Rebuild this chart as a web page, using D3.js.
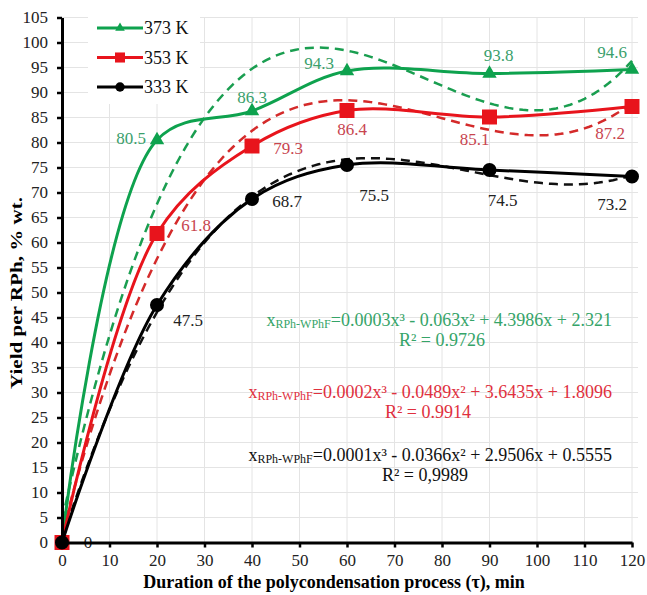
<html>
<head>
<meta charset="utf-8">
<script src="https://d3js.org/d3.v7.min.js"></script>
<style>
body { margin: 0; background: #fff; }
text { font-family: "Liberation Serif", "Times New Roman", serif; }
</style>
</head>
<body>
<script>
// data
var times = [0, 20, 40, 60, 90, 120];
var y373 = [0, 80.5, 86.3, 94.3, 93.8, 94.6];
var y353 = [0, 61.8, 79.3, 86.4, 85.1, 87.2];
var y333 = [0, 47.5, 68.7, 75.5, 74.5, 73.2];
var seriesNames = ["373 K", "353 K", "333 K"];
var xTicks = d3.range(0, 121, 10);
var yTicks = d3.range(0, 106, 5);
var eqTexts = [
  "=0.0003x³ - 0.063x² + 4.3986x + 2.321",
  "=0.0002x³ - 0.0489x² + 3.6435x + 1.8096",
  "=0.0001x³ - 0.0366x² + 2.9506x + 0.5555"
];
var r2Texts = ["R² = 0.9726", "R² = 0.9914", "R² = 0,9989"];

var W = 647, H = 595;
var x = d3.scaleLinear().domain([0, 120]).range([62, 632]);
var y = d3.scaleLinear().domain([0, 105]).range([542.5, 17.5]);

var svg = d3.select("body").append("svg")
    .attr("width", W)
    .attr("height", H);

// grid
svg.append("g").selectAll("line.gy")
    .data(yTicks.slice(1))
  .enter().append("line")
    .attr("x1", x(0)).attr("x2", x(120) + 6)
    .attr("y1", function(d) { return y(d); })
    .attr("y2", function(d) { return y(d); })
    .attr("stroke", "#e4e4e4").attr("stroke-width", 1);
svg.append("g").selectAll("line.gx")
    .data(xTicks.slice(1))
  .enter().append("line")
    .attr("x1", function(d) { return x(d); })
    .attr("x2", function(d) { return x(d); })
    .attr("y1", y(105)).attr("y2", y(0))
    .attr("stroke", "#e4e4e4").attr("stroke-width", 1);

// cubic least squares, like the spreadsheet trendline
function polyfit(xs, ys, deg) {
  var n = deg + 1, A = [], b = [];
  for (var i = 0; i < n; i++) {
    A.push([]);
    for (var j = 0; j < n; j++) A[i].push(d3.sum(xs, function(v) { return Math.pow(v, i + j); }));
    b.push(d3.sum(xs, function(v, k) { return ys[k] * Math.pow(v, i); }));
  }
  for (var c = 0; c < n; c++) {
    var p = c;
    for (var r = c + 1; r < n; r++) if (Math.abs(A[r][c]) > Math.abs(A[p][c])) p = r;
    var t = A[c]; A[c] = A[p]; A[p] = t; var tb = b[c]; b[c] = b[p]; b[p] = tb;
    for (var r2 = c + 1; r2 < n; r2++) {
      var f = A[r2][c] / A[c][c];
      for (var k = c; k < n; k++) A[r2][k] -= f * A[c][k];
      b[r2] -= f * b[c];
    }
  }
  var coef = new Array(n);
  for (var i2 = n - 1; i2 >= 0; i2--) {
    var s = b[i2];
    for (var k2 = i2 + 1; k2 < n; k2++) s -= A[i2][k2] * coef[k2];
    coef[i2] = s / A[i2][i2];
  }
  return function(v) { return d3.sum(coef, function(cf, k) { return cf * Math.pow(v, k); }); };
}

var series = [
  {name: seriesNames[0], vals: y373, color: "#0ea24e", lab: "#3a9f6c", dash: "#1a9e50", sym: d3.symbolTriangle, size: 90,
   offs: [[26, 0], [-26, -2], [0, -14], [-28, -8], [9, -18], [-20, -17]]},
  {name: seriesNames[1], vals: y353, color: "#e8141c", lab: "#c8454f", dash: "#d42a2a", sym: d3.symbolSquare, size: 225,
   offs: [[26, 0], [39, -8], [36, 2], [5, 19], [-15, 22], [-22, 27]]},
  {name: seriesNames[2], vals: y333, color: "#000", lab: "#222", dash: "#111", sym: d3.symbolCircle, size: 154,
   offs: [[26, 0], [31, 15], [35, 2], [27, 30], [13, 30], [-20, 28]]}
];

var line = d3.line()
    .x(function(d) { return x(d[0]); })
    .y(function(d) { return y(d[1]); })
    .curve(d3.curveCatmullRom.alpha(0.5));
var trendLine = d3.line()
    .x(function(d) { return x(d[0]); })
    .y(function(d) { return y(d[1]); });

series.forEach(function(s) {
  var fit = polyfit(times, s.vals, 3);
  var pts = d3.range(0, 120.5, 1).map(function(v) { return [v, fit(v)]; });
  svg.append("path")
      .attr("d", trendLine(pts))
      .attr("fill", "none")
      .attr("stroke", s.dash)
      .attr("stroke-width", 2.5)
      .attr("stroke-dasharray", "9,6");
});

series.forEach(function(s) {
  var pts = times.map(function(t, i) { return [t, s.vals[i]]; });
  svg.append("path")
      .attr("d", line(pts))
      .attr("fill", "none")
      .attr("stroke", s.color)
      .attr("stroke-width", 3);
  svg.selectAll(null)
      .data(pts)
    .enter().append("path")
      .attr("d", d3.symbol().type(s.sym).size(s.size))
      .attr("transform", function(d) { return "translate(" + x(d[0]) + "," + y(d[1]) + ")"; })
      .attr("fill", s.color);
});

// data labels
series.forEach(function(s) {
  svg.selectAll(null)
      .data(times)
    .enter().append("text")
      .attr("x", function(t, i) { return x(t) + s.offs[i][0]; })
      .attr("y", function(t, i) { return y(s.vals[i]) + s.offs[i][1]; })
      .attr("text-anchor", "middle")
      .attr("dominant-baseline", "central")
      .style("font-size", "17px")
      .attr("fill", s.lab)
      .text(function(t, i) { return s.vals[i] === 0 && s.name !== "333 K" ? "" : s.vals[i]; });
});

// equations
var eqY = [320, 392, 455];
var r2X = [442, 428, 425];
var eqColors = ["#35a468", "#e0303e", "#111"];
eqTexts.forEach(function(e, i) {
  var t = svg.append("text")
      .attr("x", 612).attr("y", eqY[i])
      .attr("text-anchor", "end")
      .attr("dominant-baseline", "central")
      .attr("fill", eqColors[i])
      .style("font-size", "18px");
  t.append("tspan").text("x");
  t.append("tspan").style("font-size", "12px").attr("dy", 4).text("RPh-WPhF");
  t.append("tspan").attr("dy", -4).text(e);
  svg.append("text")
      .attr("x", r2X[i]).attr("y", eqY[i] + 20)
      .attr("text-anchor", "middle")
      .attr("dominant-baseline", "central")
      .attr("fill", eqColors[i])
      .style("font-size", "18px")
      .text(r2Texts[i]);
});

// axes
var yAxis = svg.append("g")
    .attr("transform", "translate(" + x(0) + ",0)")
    .call(d3.axisLeft(y).tickValues(yTicks).tickSize(5).tickSizeOuter(0).tickPadding(9));
var xAxis = svg.append("g")
    .attr("transform", "translate(0," + y(0) + ")")
    .call(d3.axisBottom(x).tickValues(xTicks).tickSize(5).tickSizeOuter(0).tickPadding(6));
[yAxis, xAxis].forEach(function(a) {
  a.select(".domain").attr("stroke", "#000").attr("stroke-width", 3);
  a.selectAll(".tick line").attr("stroke", "#000").attr("stroke-width", 2.5);
  a.selectAll(".tick text")
      .attr("fill", "#222")
      .style("font-family", "'Liberation Serif', serif")
      .style("font-size", "17px");
});

// legend
svg.append("rect")
    .attr("x", 88).attr("y", 12).attr("width", 112).attr("height", 92)
    .attr("fill", "#fff");
series.forEach(function(s, i) {
  var ly = 28 + i * 29.5;
  svg.append("line")
      .attr("x1", 97).attr("x2", 143)
      .attr("y1", ly).attr("y2", ly)
      .attr("stroke", s.color).attr("stroke-width", 3);
  svg.append("path")
      .attr("d", d3.symbol().type(s.sym).size(s.size * 0.45))
      .attr("transform", "translate(120," + ly + ")")
      .attr("fill", s.color);
  svg.append("text")
      .attr("x", 144).attr("y", ly)
      .attr("dominant-baseline", "central")
      .style("font-size", "18px")
      .attr("fill", "#111")
      .text(s.name);
});

// axis titles
svg.append("text")
    .attr("x", 334).attr("y", 582)
    .attr("text-anchor", "middle")
    .attr("dominant-baseline", "central")
    .style("font-size", "18px")
    .style("font-weight", "bold")
    .text("Duration of the polycondensation process (τ), min");

svg.append("text")
    .attr("transform", "translate(16,293) rotate(-90)")
    .attr("text-anchor", "middle")
    .attr("dominant-baseline", "central")
    .attr("textLength", 192)
    .attr("lengthAdjust", "spacingAndGlyphs")
    .style("font-size", "17px")
    .style("font-weight", "bold")
    .text("Yield per RPh, % wt.");
</script>
</body>
</html>
